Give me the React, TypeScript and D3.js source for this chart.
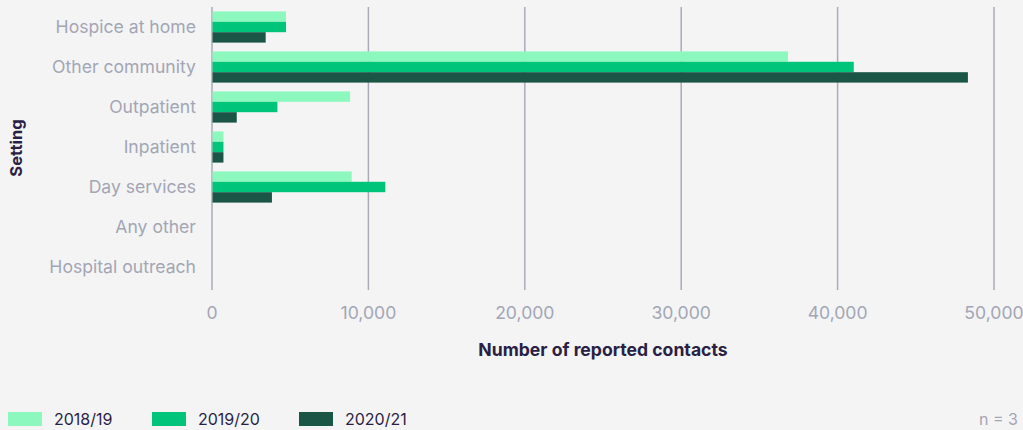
import React from "react";
import * as d3 from "d3";

const categories = ["Hospice at home", "Other community", "Outpatient", "Inpatient", "Day services", "Any other", "Hospital outreach"];
const seriesNames = ["2018/19", "2019/20", "2020/21"];
const values2018 = [4700, 36800, 8800, 700, 8900, 0, 0];
const values2019 = [4700, 41000, 4150, 700, 11050, 0, 0];
const values2020 = [3400, 48300, 1550, 700, 3800, 0, 0];
const xTicks = [0, 10000, 20000, 30000, 40000, 50000];
const colors = ["#8cf8be", "#00c47a", "#1a5545"];

export default function App() {
  const W = 1023, H = 430;
  const left = 212, right = 994, top = 7, bottom = 287;
  const font = "Inter, 'Noto Sans', sans-serif";
  const x = d3.scaleLinear().domain([0, 50000]).range([left, right]);
  const y = d3.scaleBand().domain(categories).range([top, bottom]).paddingInner(0.22).paddingOuter(0.11);
  const sub = d3.scaleBand().domain(seriesNames).range([0, y.bandwidth()]);
  const series = [values2018, values2019, values2020];
  const fmt = d3.format(",");
  const legendX = [8, 152, 299];
  return (
    <svg width={W} height={H} style={{ position: "absolute", left: 0, top: 0, background: "#f4f4f4" }} fontFamily={font}>
      <rect x={0} y={0} width={W} height={H} fill="#f4f4f4" />
      {xTicks.map((t) => (
        <line key={t} x1={x(t)} x2={x(t)} y1={top} y2={290} stroke="#a9abbb" strokeWidth={1.5} />
      ))}
      {series.map((vals, si) =>
        categories.map((c, ci) =>
          vals[ci] > 0 ? (
            <rect key={si + "-" + ci} x={x(0) + 0.5} y={(y(c) as number) + (sub(seriesNames[si]) as number)} width={x(vals[ci]) - x(0)} height={sub.bandwidth()} fill={colors[si]} />
          ) : null
        )
      )}
      {categories.map((c) => (
        <text key={c} x={196} y={(y(c) as number) + y.bandwidth() / 2} dy="0.35em" textAnchor="end" fontSize={17.6} fill="#a3a6b4">{c}</text>
      ))}
      {xTicks.map((t) => (
        <text key={t} x={x(t)} y={313} dy="0.35em" textAnchor="middle" fontSize={17.6} fill="#a3a6b4">{fmt(t)}</text>
      ))}
      <text x={603} y={350} dy="0.35em" textAnchor="middle" fontSize={17.6} fontWeight="bold" fill="#2a1f45">Number of reported contacts</text>
      <text transform={`translate(16,148) rotate(-90)`} dy="0.35em" textAnchor="middle" fontSize={16.5} fontWeight="bold" fill="#2a1f45">Setting</text>
      {seriesNames.map((s, i) => (
        <g key={s}>
          <rect x={legendX[i]} y={412} width={34} height={14} fill={colors[i]} />
          <text x={legendX[i] + 46} y={419} dy="0.35em" fontSize={16} fill="#2a1f45">{s}</text>
        </g>
      ))}
      <text x={1018} y={419} dy="0.35em" textAnchor="end" fontSize={16} fill="#a3a6b4">n = 3</text>
    </svg>
  );
}
